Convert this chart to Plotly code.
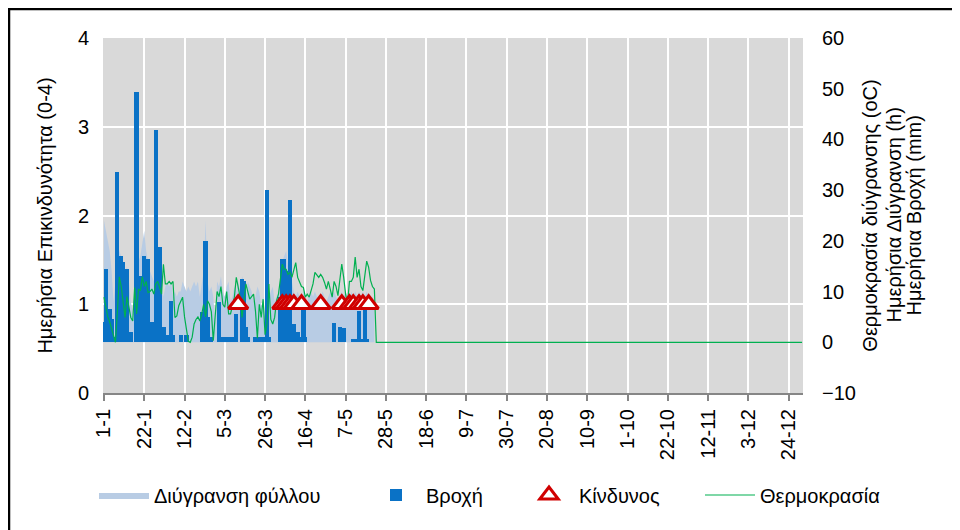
import plotly.graph_objects as go

# ---------------- data ----------------
tick_labels = ["1-1", "22-1", "12-2", "5-3", "26-3", "16-4", "7-5", "28-5", "18-6",
               "9-7", "30-7", "20-8", "10-9", "1-10", "22-10", "12-11", "3-12", "24-12"]
tick_days = [0, 21, 42, 63, 84, 105, 126, 147, 168, 189, 210, 231, 252, 273, 294, 315, 336, 357]

# daily rain (mm), day 0 = 1 January
rain = [4, 14.5, 0, 6.5, 4.5, 1, 0, 33.5, 0, 17,
        15.8, 10, 14.4, 0, 2, 0, 0, 49.4, 0, 13,
        0, 17, 0, 16.5, 0, 4, 0, 41.8, 0, 18.8,
        0, 3, 0, 1.5, 0, 8.2, 1.5, 0, 0, 0,
        1.5, 0, 0, 1.5, 0, 0, 0, 0, 0, 0,
        0, 6, 0, 20, 5, 0, 1, 0, 0, 0,
        7.9, 1, 1, 0, 1, 1, 1, 1, 1, 5.6,
        0, 0, 12.5, 12, 3, 1, 0, 0, 0, 1,
        0, 1, 0, 1, 0, 30, 1, 0, 0, 0,
        0, 0, 8.9, 16.4, 16.4, 14, 0, 28, 3.6, 3.6,
        2, 2, 1, 0, 7.5, 1, 0, 0, 0, 0,
        0, 0, 0, 0, 0, 0, 0, 0, 0, 0,
        3.9, 0, 0, 3, 0, 2.8, 0, 0, 0, 0,
        0.6, 0.6, 0, 6.2, 0.6, 0, 7.2, 0.6, 0, 0,
        0, 0]

# daily leaf wetness (h)
wetness = [24, 22, 20, 18, 14, 8, 12, 20, 18, 17,
           16, 13, 15, 12, 8, 6, 10, 22, 16, 17,
           20, 22, 18, 16, 14, 13, 12, 19, 16, 14,
           12, 9, 11, 12, 11, 12, 9, 10, 9, 10,
           10, 12, 11, 10, 11, 10, 11, 12, 11, 12,
           9, 12, 14, 24, 12, 10, 11, 9, 4, 12,
           11, 13, 10, 9, 11, 12, 8, 9, 11, 10,
           12, 10, 13, 12, 9, 12, 11, 10, 8, 9,
           11, 10, 7, 9, 5, 14, 9, 10, 11, 8,
           9, 10, 12, 16, 17, 18, 15, 16, 12, 10,
           9, 10, 9, 8, 10, 9, 8, 9, 10, 9,
           10, 9, 8, 9, 10, 9, 8, 9, 10, 9,
           10, 9, 8, 9, 10, 9, 10, 9, 8, 10,
           9, 10, 9, 10, 9, 10, 9, 10, 9, 8,
           9, 8]

# daily wetting temperature (oC)
temperature = [8.9, 6.9, 5.0, 4.0, 2.8, 1.5, 0, 6.0, 12.9, 11.0,
               8.2, 4.9, 9.0, 7.0, 4.9, 4.2, 10.8, 5.6, 10.5, 10.2,
               12.9, 11.0, 12.0, 9.8, 10.0, 10.5, 9.5, 11.5, 12.0, 10.8,
               9.5, 15.4, 11.5, 11.5, 12.0, 11.5, 12.0, 4.9, 5.2, 7.2,
               8.2, 8.9, 5.0, 3.0, 0.2, 0, 1.0, 3.6, 4.5, 5.0,
               4.2, 5.6, 7.5, 5.0, 8.2, 7.5, 6.0, 0.3, 5.0, 10.0,
               9.0, 11.0, 7.5, 6.9, 10.0, 5.6, 5.6, 7.0, 8.9, 12.8,
               11.0, 8.9, 4.9, 8.9, 11.5, 10.0, 8.5, 9.0, 9.5, 6.2,
               0.8, 7.5, 4.9, 8.5, 1.5, 3.6, 11.5, 4.5, 3.6, 4.9,
               8.2, 9.5, 12.0, 15.4, 14.4, 14.4, 13.4, 13.8, 12.8, 14.4,
               15.7, 12.8, 12.0, 11.0, 10.8, 8.9, 9.5, 8.9, 10.2, 11.5,
               13.8, 13.4, 12.8, 13.4, 12.8, 11.8, 10.5, 12.0, 10.2, 8.9,
               12.0, 11.0, 9.2, 12.0, 15.4, 12.8, 9.5, 7.5, 12.0, 12.0,
               12.8, 16.8, 12.8, 14.4, 11.0, 10.2, 12.8, 16.0, 14.8, 12.2,
               11.0, 10.5]
temperature_tail_days = [142, 364]
temperature_tail = [0, 0]

# daily risk (0-4)
risk_days = [70, 93, 95, 97, 99, 103, 113, 124, 128, 130, 133, 135, 138]
risk = [1, 1, 1, 1, 1, 1, 1, 1, 1, 1, 1, 1, 1]

# ---------------- figure ----------------
days = list(range(len(rain)))
FONT = "Liberation Sans, Arial, sans-serif"
FS = 20
BLACK = "#000000"

fig = go.Figure()
# main subplot (x, y): leaf wetness area (drawn at the back)
fig.add_trace(go.Scatter(
    x=days, y=wetness, xaxis="x", yaxis="y", name="Διύγρανση φύλλου",
    mode="lines", line=dict(width=0, color="#B8CCE4"),
    fill="tozeroy", fillcolor="#B8CCE4", legend="legend"))
# overlay (x, y2): rain bars + temperature line
fig.add_trace(go.Bar(
    x=days, y=rain, xaxis="x", yaxis="y2", name="Βροχή", width=2.2,
    marker=dict(color="#0A72C6", line=dict(width=0)), legend="legend2"))
fig.add_trace(go.Scatter(
    x=days + temperature_tail_days, y=temperature + temperature_tail,
    xaxis="x", yaxis="y2", name="Θερμοκρασία", mode="lines",
    line=dict(color="#00B050", width=1.2), legend="legend4"))
# overlay (x, y3): risk triangles on the left axis
fig.add_trace(go.Scatter(
    x=risk_days, y=risk, xaxis="x", yaxis="y3", name="Κίνδυνος", mode="markers",
    marker=dict(symbol="triangle-up", size=17, color="white",
                line=dict(color="#D00000", width=3)),
    legend="legend3"))

# page body margin shifts the figure by 8 px; targets below are screen pixels
OFF = 8
SL, SR, ST, SB = 103, 803, 38, 393          # plot area on screen
L, T = SL - OFF, ST - OFF
R, B = 960 - (SR - OFF), 530 - (SB - OFF)
PW, PH = SR - SL, SB - ST


def sx(px):
    return (px - SL) / PW


def sy(py):
    return (SB - py) / PH


tf = dict(family=FONT, size=FS, color=BLACK)
legend_common = dict(orientation="h", yanchor="middle", xanchor="left",
                      y=sy(495), itemwidth=50, bgcolor="rgba(0,0,0,0)",
                      font=tf)

fig.update_layout(
    template="none",
    width=960, height=530,
    margin=dict(l=L, r=R, t=T, b=B, pad=0, autoexpand=False),
    paper_bgcolor="white", plot_bgcolor="#D9D9D9",
    font=tf,
    showlegend=True,
    bargap=0,
    legend=dict(legend_common, x=sx(94)),
    legend2=dict(legend_common, x=sx(366)),
    legend3=dict(legend_common, x=sx(519)),
    legend4=dict(legend_common, x=sx(700)),
    xaxis=dict(
        range=[-0.5, 364.5], tickmode="array", tickvals=tick_days, ticktext=tick_labels,
        tickangle=-90, ticks="outside", ticklen=6, tickcolor="#868686", tickwidth=1.5,
        showline=True, linecolor="#868686", linewidth=2, automargin=False,
        showgrid=True, gridcolor="white", gridwidth=2, zeroline=False,
        tickfont=tf),
    yaxis=dict(
        range=[-10, 60], dtick=10, side="right", anchor="x", automargin=False,
        showgrid=False, zeroline=False, showline=False, ticks="",
        ticklabelstandoff=18,
        title=dict(text="Θερμοκρασία διύγρανσης (oC)", standoff=8, font=tf),
        tickfont=tf),
    yaxis2=dict(
        range=[-10, 60], overlaying="y", side="right", anchor="x", visible=False,
        showgrid=False, zeroline=False),
    yaxis3=dict(
        range=[0, 4], dtick=1, side="left", overlaying="y", anchor="x", automargin=False,
        showgrid=True, gridcolor="white", gridwidth=2, zeroline=False,
        showline=False, ticks="", ticklabelstandoff=13,
        title=dict(text="Ημερήσια Επικινδυνότητα (0-4)", standoff=19, font=tf),
        tickfont=tf),
    annotations=[
        dict(text="Ημερήσια Διύγρανση (h)", xref="paper", yref="paper",
             x=sx(893), y=0.5, xanchor="center", yanchor="middle",
             textangle=-90, showarrow=False, font=tf),
        dict(text="Ημερήσια Βροχή (mm)", xref="paper", yref="paper",
             x=sx(913), y=0.5, xanchor="center", yanchor="middle",
             textangle=-90, showarrow=False, font=tf),
    ],
    shapes=[dict(type="rect", xref="paper", yref="paper",
                 x0=sx(9), x1=sx(990), y0=sy(560), y1=sy(9),
                 line=dict(color="black", width=2.5), fillcolor="rgba(0,0,0,0)")],
)

fig.write_html("out.html")
